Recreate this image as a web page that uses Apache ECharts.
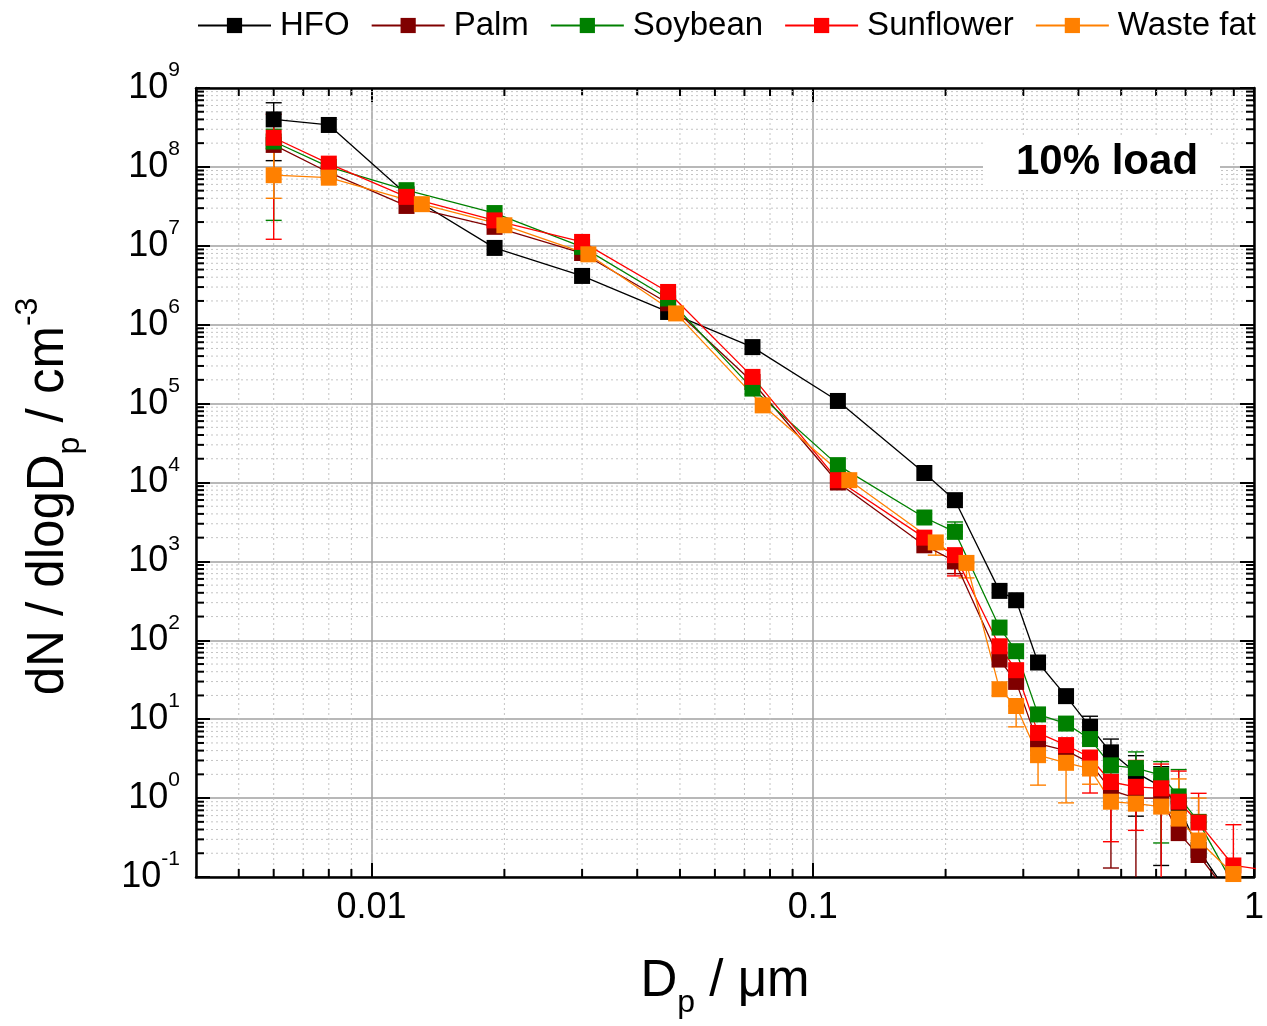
<!DOCTYPE html>
<html><head><meta charset="utf-8">
<script src="https://cdn.jsdelivr.net/npm/echarts@6/dist/echarts.min.js"></script>
<style>html,body{margin:0;padding:0;background:#fff}#c{width:1267px;height:1026px}</style>
</head><body><div id="c"></div>
<script>
const FONT = 'Liberation Sans, Arial, sans-serif';
// particle diameters (µm)
const dpSMPS = [0.006, 0.008, 0.012, 0.019, 0.030, 0.047, 0.073, 0.114, 0.179, 0.210];
const dpWasteSMPS = [0.006, 0.008, 0.013, 0.020, 0.031, 0.049, 0.077, 0.121, 0.190, 0.223];
const dpOPC = [0.265, 0.289, 0.324, 0.375, 0.425, 0.474, 0.540, 0.616, 0.675, 0.749, 0.898, 1.1];

const seriesNames = ['HFO', 'Palm', 'Soybean', 'Sunflower', 'Waste fat'];
const seriesColors = ['#000000', '#800000', '#008000', '#ff0000', '#ff8000'];

// dN/dlogDp values
const hfo = [4.0e8, 3.4e8, 4.5e7, 9.4e6, 4.15e6, 1.45e6, 5.2e5, 1.08e5, 1.32e4, 5.97e3,
             423, 322, 52.3, 19.6, 8.0, 3.8, 2.1, 1.4, 0.8, 0.22, 0.05, null];
const palm = [1.9e8, 8.5e7, 3.2e7, 1.74e7, 8.1e6, 1.87e6, 1.88e5, 1.0e4, 1.6e3, 1.0e3,
              57, 29.7, 4.9, 4.0, 2.8, 1.26, 1.0, 1.0, 0.36, 0.19, 0.05, null];
const soybean = [2.1e8, 1.0e8, 5.07e7, 2.6e7, 9.7e6, 2.15e6, 1.55e5, 1.66e4, 3.6e3, 2.37e3,
                 145, 72.8, 11.5, 8.8, 5.6, 2.6, 2.4, 1.95, 1.05, 0.5, 0.08, null];
const sunflower = [2.34e8, 1.1e8, 4.17e7, 2.1e7, 1.12e7, 2.6e6, 2.18e5, 1.07e4, 2.0e3, 1.2e3,
                   84, 41.8, 6.7, 4.7, 3.27, 1.6, 1.39, 1.33, 0.9, 0.49, 0.14, 0.12];
const wastefat = [7.85e7, 7.3e7, 3.37e7, 1.82e7, 7.8e6, 1.39e6, 9.5e4, 1.07e4, 1.74e3, 957,
                  24, 14.7, 3.5, 2.8, 2.37, 0.9, 0.85, 0.78, 0.55, 0.29, 0.109, null];

// error bar limits (lower / upper), null where hidden
const hfoLo = [1.2e8,null,null,null,null,null,null,null,null,null, null,null,null,null,6.0,2.5,0.59,0.14,null,null,null,null];
const hfoHi = [6.5e8,null,null,null,null,null,null,null,null,null, null,null,null,null,10.9,5.6,3.45,2.5,null,null,null,null];
const palmLo = [null,null,null,null,null,null,null,null,null,700, null,null,null,null,null,0.13,0.02,null,null,null,null,null];
const palmHi = [null,null,null,null,null,null,null,null,null,1300, null,null,null,null,null,2.0,2.0,null,null,null,null,null];
const soyLo = [2.1e7,null,null,null,null,null,null,null,null,null, null,null,null,null,null,null,1.2,0.27,null,null,null,null];
const soyHi = [3.0e8,null,null,null,null,null,null,null,null,3160, null,null,null,null,null,null,3.85,2.9,2.3,null,null,null];
const sunLo = [1.21e7,null,null,null,null,null,null,null,null,655, null,null,null,null,1.16,0.28,0.39,0.02,null,null,0.03,null];
const sunHi = [4.65e8,null,null,null,null,null,null,null,null,null, null,null,null,null,null,2.6,3.0,2.7,2.2,1.15,0.46,null];
const wasteLo = [4.0e7,null,null,null,null,null,null,null,1200,618, null,8.0,1.46,0.87,1.5,null,null,null,null,null,null,null];
const wasteHi = [1.7e8,null,null,null,null,null,null,null,null,null, null,null,null,null,null,null,null,1.6,1.75,1.0,null,null];

const yTickExp = [-1, 0, 1, 2, 3, 4, 5, 6, 7, 8, 9];
const xTickLabels = ['0.01', '0.1', '1'];

const allValues = [hfo, palm, soybean, sunflower, wastefat];
const allLo = [hfoLo, palmLo, soyLo, sunLo, wasteLo];
const allHi = [hfoHi, palmHi, soyHi, sunHi, wasteHi];
const allX = [dpSMPS.concat(dpOPC), dpSMPS.concat(dpOPC), dpSMPS.concat(dpOPC), dpSMPS.concat(dpOPC), dpWasteSMPS.concat(dpOPC)];

// minor tick positions (log 2..9 of each decade)
const xMinor = [], yMinor = [];
for (let d = -3; d <= -1; d++) for (let m = 2; m <= 9; m++) { const v = m * Math.pow(10, d); if (v > 0.0040001 && v < 1) xMinor.push([+v.toPrecision(3), 1]); }
for (let d = -1; d <= 8; d++) for (let m = 2; m <= 9; m++) yMinor.push([0.01, +(m * Math.pow(10, d)).toPrecision(3)]);

const chart = echarts.init(document.getElementById('c'));

const series = [];
// minor grid + minor ticks
series.push({
  type: 'custom', name: 'xminor', data: xMinor, encode: {x: 0, y: 1}, z: 1, silent: true,
  renderItem: function (params, api) {
    const cs = params.coordSys; const x = api.coord([api.value(0), 1])[0];
    const b = cs.y + cs.height;
    return {type: 'group', children: [
      {type: 'line', shape: {x1: x, y1: cs.y, x2: x, y2: b}, style: {stroke: '#c4c4c4', lineWidth: 1, lineDash: [2, 3]}},
      {type: 'line', shape: {x1: x, y1: b, x2: x, y2: b - 8}, style: {stroke: '#000', lineWidth: 2}},
      {type: 'line', shape: {x1: x, y1: cs.y, x2: x, y2: cs.y + 8}, style: {stroke: '#000', lineWidth: 2}}
    ]};
  }
});
series.push({
  type: 'custom', name: 'yminor', data: yMinor, encode: {x: 0, y: 1}, z: 1, silent: true,
  renderItem: function (params, api) {
    const cs = params.coordSys; const y = api.coord([0.01, api.value(1)])[1];
    const r = cs.x + cs.width;
    return {type: 'group', children: [
      {type: 'line', shape: {x1: cs.x, y1: y, x2: r, y2: y}, style: {stroke: '#c4c4c4', lineWidth: 1, lineDash: [2, 3]}},
      {type: 'line', shape: {x1: cs.x, y1: y, x2: cs.x + 8, y2: y}, style: {stroke: '#000', lineWidth: 2}},
      {type: 'line', shape: {x1: r, y1: y, x2: r - 8, y2: y}, style: {stroke: '#000', lineWidth: 2}}
    ]};
  }
});

function errRender(color) {
  return function (params, api) {
    const x = api.value(0), lo = api.value(1), hi = api.value(2);
    const p1 = api.coord([x, lo]), p2 = api.coord([x, hi]);
    const w = 8, st = {stroke: color, lineWidth: 1.4};
    return {type: 'group', children: [
      {type: 'line', shape: {x1: p1[0], y1: p1[1], x2: p2[0], y2: p2[1]}, style: st},
      {type: 'line', shape: {x1: p1[0] - w, y1: p1[1], x2: p1[0] + w, y2: p1[1]}, style: st},
      {type: 'line', shape: {x1: p2[0] - w, y1: p2[1], x2: p2[0] + w, y2: p2[1]}, style: st}
    ]};
  };
}

for (let s = 0; s < 5; s++) {
  const xs = allX[s], ys = allValues[s];
  const data = [];
  xs.forEach((x, i) => { if (ys[i] != null) data.push([x, ys[i]]); });
  series.push({
    type: 'line', name: seriesNames[s], data: data, z: 2,
    symbol: 'rect', symbolSize: 16, clip: true,
    lineStyle: {color: seriesColors[s], width: 1.3},
    itemStyle: {color: seriesColors[s], borderWidth: 0},
    emphasis: {disabled: true}
  });
  const ed = [];
  xs.forEach((x, i) => {
    const lo = allLo[s][i], hi = allHi[s][i];
    if (lo == null && hi == null) return;
    ed.push([x, lo != null ? lo : ys[i], hi != null ? hi : ys[i]]);
  });
  series.push({
    type: 'custom', name: seriesNames[s] + ' err', data: ed, encode: {x: 0, y: [1, 2]},
    z: 2, clip: true, silent: true, renderItem: errRender(seriesColors[s])
  });
}

const axisLine = {show: true, onZero: false, lineStyle: {color: '#000', width: 2.5}};
const axisTick = {show: true, inside: true, length: 14, lineStyle: {color: '#000', width: 2}};

chart.setOption({
  animation: false,
  backgroundColor: '#fff',
  grid: {left: 196, right: 9, top: 88, bottom: 149, containLabel: false},
  legend: {
    data: seriesNames, left: 197, top: 9, width: 1070, padding: 0, orient: 'horizontal',
    itemWidth: 73, itemHeight: 19, itemGap: 21,
    textStyle: {fontFamily: FONT, fontSize: 33, color: '#000', padding: [0, 0, 0, 4]},
    selectedMode: false
  },
  xAxis: [{
    type: 'log', logBase: 10, min: 0.004, max: 1, position: 'bottom',
    axisLine: axisLine, axisTick: axisTick,
    splitLine: {show: true, lineStyle: {color: '#a0a0a0', width: 1.5}},
    axisLabel: {
      margin: 13, fontFamily: FONT, fontSize: 36, color: '#000', showMinLabel: false,
      formatter: function (v) {
        const e = Math.log10(v); if (Math.abs(e - Math.round(e)) > 1e-6) return '';
        return xTickLabels[Math.round(e) + 2] || '';
      }
    },
    name: 'D{sub|p} / μm', nameLocation: 'middle', nameGap: 68,
    nameTextStyle: {fontFamily: FONT, fontSize: 51, color: '#000', lineHeight: 74,
      rich: {sub: {fontFamily: FONT, fontSize: 32, lineHeight: 32, verticalAlign: 'bottom', color: '#000'}}}
  }, {
    type: 'log', logBase: 10, min: 0.004, max: 1, position: 'top',
    axisLine: axisLine, axisTick: axisTick, axisLabel: {show: false}, splitLine: {show: false}
  }],
  yAxis: [{
    type: 'log', logBase: 10, min: 0.1, max: 1e9, interval: 1, position: 'left',
    axisLine: axisLine, axisTick: axisTick,
    splitLine: {show: true, lineStyle: {color: '#a0a0a0', width: 1.5}},
    axisLabel: {
      margin: 16, fontFamily: FONT, color: '#000',
      formatter: function (v) { const e = Math.round(Math.log10(v)); return yTickExp.indexOf(e) >= 0 ? '{b|10}{sup|' + e + '}' : ''; },
      rich: {
        b: {fontFamily: FONT, fontSize: 36, lineHeight: 56, color: '#000'},
        sup: {fontFamily: FONT, fontSize: 21, lineHeight: 21, verticalAlign: 'top', color: '#000'}
      }
    },
    name: 'dN / dlogD{sub|p} / cm{sup|-3}', nameLocation: 'middle', nameGap: 110,
    nameTextStyle: {fontFamily: FONT, fontSize: 51, color: '#000', lineHeight: 74, padding: [0, 28, 0, 0],
      rich: {
        sub: {fontFamily: FONT, fontSize: 32, lineHeight: 32, verticalAlign: 'bottom', color: '#000'},
        sup: {fontFamily: FONT, fontSize: 32, lineHeight: 32, verticalAlign: 'top', color: '#000'}
      }}
  }, {
    type: 'log', logBase: 10, min: 0.1, max: 1e9, interval: 1, position: 'right',
    axisLine: axisLine, axisTick: axisTick, axisLabel: {show: false}, splitLine: {show: false}
  }],
  graphic: [
    {type: 'rect', left: 983, top: 135, shape: {width: 237, height: 55}, style: {fill: '#fff'}, z: 50, silent: true},
    {type: 'text', x: 1107, y: 162, z: 51, silent: true,
     style: {text: '10% load', font: 'bold 42px ' + FONT, fill: '#000', textAlign: 'center', textVerticalAlign: 'middle'}}
  ],
  series: series
});
</script></body></html>
